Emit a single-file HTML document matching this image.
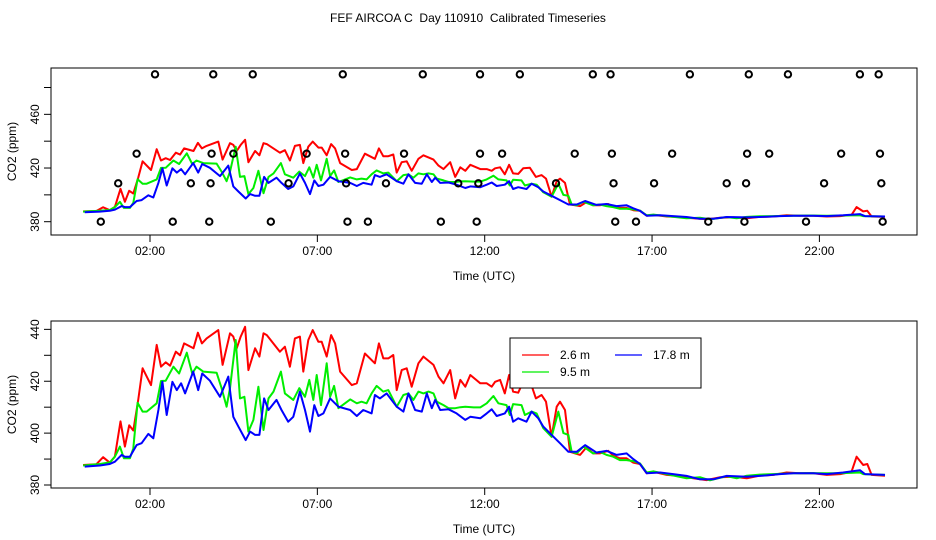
<!DOCTYPE html>
<html><head><meta charset="utf-8"><style>
html,body{margin:0;padding:0;background:#fff}
svg{display:block;font-family:"Liberation Sans",sans-serif}
</style></head><body>
<svg id="chart" width="936" height="540" viewBox="0 0 936 540">
<rect width="936" height="540" fill="#fff"/>
<text x="468" y="22" text-anchor="middle" font-size="12" xml:space="preserve" style="white-space:pre">FEF AIRCOA C  Day 110910  Calibrated Timeseries</text>
</svg>
<script>
const redT=[0,0.4,0.6,0.8,0.95,1.12,1.25,1.38,1.5,1.65,1.78,2.03,2.2,2.33,2.47,2.6,2.77,2.9,3.02,3.3,3.43,3.55,3.69,4.04,4.17,4.39,4.49,4.59,4.71,4.84,4.94,5.14,5.27,5.39,5.49,5.88,6.03,6.18,6.33,6.48,6.58,6.73,6.86,7.03,7.13,7.28,7.41,7.53,7.68,8.03,8.18,8.42,8.72,8.84,8.97,9.12,9.27,9.37,9.52,9.67,9.82,10.02,10.17,10.47,10.62,10.77,10.97,11.12,11.27,11.42,11.57,11.87,12.06,12.21,12.31,12.46,12.6,12.73,12.85,13.0,13.15,13.35,13.53,13.7,13.83,14.0,14.15,14.25,14.4,14.55,14.7,14.85,15.04,15.24,15.44,15.69,15.84,16.04,16.24,16.44,16.64,16.84,17.04,17.44,17.83,18.23,18.63,19.03,19.43,19.83,20.22,20.62,21.02,21.42,21.82,22.22,22.62,22.96,23.11,23.31,23.43,23.56,23.96];
const redV=[387.7,388,390.7,388.6,391,404.5,394.8,403,401,413,425,418.5,434,425.6,427.3,426,431.4,430,434.6,432.7,438.7,434.6,436.5,439.7,426.3,438.5,437.2,432.7,437.2,441,424.3,432.7,429.5,438.5,437.8,431.4,433.3,425.6,436.5,437.2,423.7,435.9,439.7,435.2,435.2,429.5,437.8,434.6,423.7,418.5,419.2,430.7,426.9,434.6,428.8,428.8,430.1,416.6,424.3,425,417.9,426.9,429.5,426.3,421.8,419.2,424.3,413.4,420.5,417.9,422.4,419.2,419.2,417.9,419.8,420.5,415.3,422.4,416,415.6,419.8,420.2,413.4,414.7,412.1,398.6,410.2,412.1,408.9,392.8,392.2,391.6,394.5,392.2,392.2,393.2,391.3,390.3,390.3,388.6,388.1,384.5,385.1,383.9,383.5,382.6,381.9,383,383.2,382.6,383.6,383.9,384.8,384.5,384.5,383.9,384.2,385.1,390.9,387.7,388.1,383.9,383.6];
const greenT=[0,0.5,0.8,0.95,1.1,1.22,1.4,1.5,1.63,1.78,1.9,2.2,2.33,2.47,2.7,2.87,3.1,3.26,3.39,3.59,3.99,4.14,4.29,4.39,4.56,4.69,4.82,4.94,5.09,5.24,5.39,5.54,5.69,5.91,6.03,6.28,6.46,6.63,6.76,6.88,6.98,7.11,7.28,7.38,7.5,7.63,7.98,8.18,8.32,8.47,8.62,8.77,8.97,9.12,9.37,9.57,9.72,9.87,10.02,10.17,10.32,10.47,10.57,10.77,10.92,11.12,11.27,11.42,11.67,11.87,12.06,12.26,12.41,12.65,12.75,12.85,13.1,13.2,13.4,13.55,13.75,14.0,14.2,14.35,14.5,14.6,14.75,14.95,15.24,15.44,15.64,15.84,16.04,16.24,16.44,16.64,16.84,17.04,17.44,18.03,18.43,18.73,19.23,19.53,19.83,20.22,20.62,21.22,21.72,22.22,22.71,23.21,23.31,23.96];
const greenV=[387.5,388.1,388.7,390.9,394.8,390.3,390.3,394.1,411.7,408.3,408.3,411.5,420.1,420.2,425.6,423,431,423,425.6,423.7,423.3,417.3,410.2,417.3,435.9,413.4,414,400.6,405.1,417.9,401.2,413.4,416,423.7,415.3,412.8,417.3,414,420.5,412.8,422.4,410.8,426.9,414,418.2,409.6,413,411.5,412.1,411.5,415.3,418.2,416,416.6,410.2,414.7,415.3,412.8,416,415.3,416,415.3,412.1,410.8,409.6,409.6,410,410.2,409.9,409.9,411.5,414.3,411.5,410.8,407,411.2,410.8,407,408.3,407.6,401.9,398.6,408.3,400,399.3,392.8,392.2,394.8,392.2,392.8,391.6,390.9,389.6,389.6,389.2,388.3,384.8,385.3,384.2,382.6,383,381.8,383.4,382.6,383.6,384,384.2,384.5,384.6,384.5,384.6,384.8,384.2,383.9];
const blueT=[0.05,0.5,0.8,0.95,1.15,1.25,1.4,1.6,1.75,1.95,2.1,2.25,2.37,2.5,2.67,2.8,2.93,3.05,3.29,3.44,3.56,3.79,4.09,4.34,4.49,4.64,4.86,4.99,5.14,5.27,5.41,5.54,5.78,5.93,6.13,6.28,6.48,6.63,6.78,6.91,7.03,7.18,7.38,7.63,7.98,8.18,8.37,8.62,8.72,8.87,9.07,9.37,9.57,9.72,9.92,10.12,10.27,10.42,10.52,10.67,10.92,11.16,11.42,11.57,11.87,12.06,12.21,12.36,12.6,12.73,12.85,13.0,13.25,13.4,13.6,13.75,14.0,14.25,14.5,14.75,15.0,15.34,15.64,15.94,16.24,16.44,16.64,16.84,17.24,17.63,18.03,18.43,18.83,19.23,19.83,20.42,20.82,21.22,21.82,22.22,22.71,23.21,23.36,23.96];
const blueV=[387.1,387.5,388.1,389,391.6,390.9,390.9,395.4,396.1,399.7,398,408.9,419.8,407,419.8,416.6,419.2,415.3,423.7,416.6,423,420.2,414,421.8,406.3,402.5,397.3,400.6,399.3,399.3,413.4,408.9,412.8,408.9,404.4,406.3,416,408.9,400.6,410.8,406.6,407.6,413.4,410.2,408.9,406.6,408.9,407.6,414.7,413.4,415.3,410.2,408.3,415.3,408.9,408.3,415.3,409.6,412.8,408.9,409.2,407.6,405.1,406.3,405.7,407.6,409.2,406.6,407.6,410.2,404.4,405.7,404.4,408.3,405.7,402.5,399.3,396.1,392.8,392.8,395.4,392.5,393.2,391.6,392.2,390,388.1,384.5,384.8,384.2,383.5,382.2,382.2,383.5,383.2,383.7,384.2,384.5,384.5,384.2,384.8,385.7,384.2,383.9];
const flagT=[2.15,3.89,5.07,7.76,10.15,11.86,13.05,15.23,15.76,18.13,19.89,21.06,23.21,23.77,1.6,3.84,4.49,6.68,7.83,9.59,11.86,12.52,14.69,15.8,17.6,19.84,20.5,22.65,23.81,1.05,3.22,3.81,6.14,7.86,9.05,11.21,11.81,14.13,15.85,17.06,19.23,19.81,22.14,23.85,0.53,2.68,3.77,5.61,7.9,8.51,10.69,11.76,15.9,16.52,18.68,19.76,21.6,23.89];
const flagV=[489.8,489.8,489.8,489.8,489.8,489.8,489.8,489.8,489.8,489.8,489.8,489.8,489.8,489.8,430.7,430.7,430.7,430.7,430.7,430.7,430.7,430.7,430.7,430.7,430.7,430.7,430.7,430.7,430.7,408.6,408.6,408.6,408.6,408.6,408.6,408.6,408.6,408.6,408.6,408.6,408.6,408.6,408.6,408.6,380,380,380,380,380,380,380,380,380,380,380,380,380,380];
const xTickHours=[2,7,12,17,22];
const xTickLabels=["02:00","07:00","12:00","17:00","22:00"];
const topYTicks=[380,400,420,440,460,480];
const topYLabels=[380,420,460];
const botYTicks=[380,390,400,410,420,430,440];
const botYLabels=[380,400,420,440];

const NS='http://www.w3.org/2000/svg';
const svg=document.getElementById('chart');
function mk(tag,attrs,parent){const e=document.createElementNS(NS,tag);for(const k in attrs)e.setAttribute(k,attrs[k]);(parent||svg).appendChild(e);return e;}
const xs=h=>150+(h-2)*33.47;
const L=51,R=917;

function panel(name,top,bot,y0px,ppx,yTicks,yLabels,showFlags){
  const g=mk('g',{});
  
  
  const ys=v=>y0px-(v-380)*ppx;
  const box=mk('rect',{x:L,y:top,width:R-L,height:bot-top,fill:'none',stroke:'#000','stroke-width':1},g);
  
  
  xTickHours.forEach((h,i)=>{
    mk('line',{x1:xs(h),x2:xs(h),y1:bot,y2:bot+7,stroke:'#000'},g);
    const t=mk('text',{x:xs(h),y:bot+20,'text-anchor':'middle','font-size':12},g);
    t.textContent=xTickLabels[i];
    
    
  });
  yTicks.forEach(v=>{mk('line',{x1:L-7,x2:L,y1:ys(v),y2:ys(v),stroke:'#000'},g);});
  yLabels.forEach(v=>{
    const t=mk('text',{x:0,y:0,'text-anchor':'middle','font-size':12,transform:`translate(${L-12},${ys(v)}) rotate(-90)`},g);
    t.textContent=v;
    
    
  });
  const xl=mk('text',{x:484,y:bot+45,'text-anchor':'middle','font-size':12},g);
  xl.textContent='Time (UTC)';
  
  
  const yl=mk('text',{x:0,y:0,'text-anchor':'middle','font-size':12,transform:`translate(16,${(top+bot)/2}) rotate(-90)`},g);
  yl.textContent='CO2 (ppm)';
  
  
  const series=[[redT,redV,'#ff0000','line-2-6m'],[greenT,greenV,'#00ee00','line-9-5m'],[blueT,blueV,'#0000ff','line-17-8m']];
  series.forEach(([T,V,c,n])=>{
    const d=T.map((t,i)=>(i?'L':'M')+xs(t).toFixed(1)+','+ys(V[i]).toFixed(1)).join(' ');
    const p=mk('path',{d:d,fill:'none',stroke:c,'stroke-width':2,'stroke-linejoin':'round'},g);
    
    
  });
  if(showFlags){
    flagT.forEach((t,i)=>{
      const c=mk('circle',{cx:xs(t),cy:ys(flagV[i]),r:3.2,fill:'none',stroke:'#000','stroke-width':2},g);
      
      
    });
  }
}
panel('top-panel',68,235,221.7,1.342,topYTicks,topYLabels,true);
panel('bottom-panel',321,488,485,2.594,botYTicks,botYLabels,false);

const lg=mk('g',{});


mk('rect',{x:510,y:338,width:191,height:50,fill:'#fff',stroke:'#000'},lg);
const items=[[522,355,'#ff0000','2.6 m','legend-entry-2-6m'],[615,355,'#0000ff','17.8 m','legend-entry-17-8m'],[522,372,'#00ee00','9.5 m','legend-entry-9-5m']];
items.forEach(([x,y,c,l,n])=>{
  const e=mk('g',{},lg);
  
  
  mk('line',{x1:x,x2:x+27,y1:y,y2:y,stroke:c,'stroke-width':1.2},e);
  const t=mk('text',{x:x+38,y:y+4,'font-size':12},e);
  t.textContent=l;
});
</script>
</body></html>
